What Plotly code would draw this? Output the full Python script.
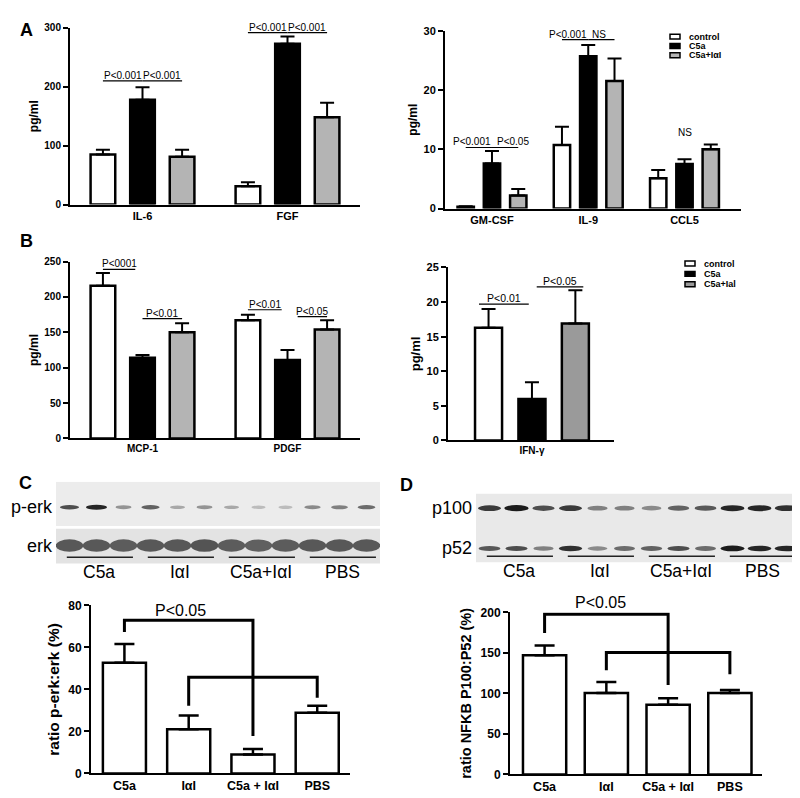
import plotly.graph_objects as go
import numpy as np

FONT = "Arial, Liberation Sans, Helvetica, sans-serif"
W, H = 800, 798

# ---------------- data ----------------
series_names = ["control", "C5a", "C5a+IαI"]

a1_cats = ["IL-6", "FGF"]
a1_vals = [[85, 31], [178, 273], [81, 148]]
a1_errs = [[8, 7], [21, 12], [12, 25]]

a2_cats = ["GM-CSF", "IL-9", "CCL5"]
a2_vals = [[0.3, 10.7, 5.1], [7.6, 25.7, 7.5], [2.2, 21.5, 10.0]]
a2_errs = [[0.1, 3.1, 1.4], [2.1, 1.9, 0.8], [1.1, 3.8, 0.8]]

b1_cats = ["MCP-1", "PDGF"]
b1_vals = [[216, 167], [114, 111], [150, 154]]
b1_errs = [[18, 8], [4, 14], [13, 13]]

b2_cats = ["IFN-γ"]
b2_vals = [[16.3], [6.0], [16.9]]
b2_errs = [[2.7], [2.4], [4.8]]

c_cats = ["C5a", "IαI", "C5a + IαI", "PBS"]
c_vals = [52.7, 21.1, 9.0, 28.9]
c_errs = [8.9, 6.5, 2.7, 3.4]

d_cats = ["C5a", "IαI", "C5a + IαI", "PBS"]
d_vals = [147, 100.6, 86, 100.6]
d_errs = [12, 13.5, 8, 3.5]

blot_groups = ["C5a", "IαI", "C5a+IαI", "PBS"]
perk_band = [0.75, 0.95, 0.4, 0.65, 0.3, 0.4, 0.3, 0.2, 0.2, 0.45, 0.5, 0.6]
erk_band = [0.7, 0.7, 0.68, 0.7, 0.7, 0.72, 0.68, 0.66, 0.68, 0.7, 0.7, 0.7]
p100_band = [0.85, 1.0, 0.75, 0.85, 0.5, 0.5, 0.45, 0.65, 0.7, 0.95, 0.95, 0.9]
p52_band = [0.7, 0.75, 0.5, 0.9, 0.45, 0.6, 0.65, 0.75, 0.6, 1.0, 0.95, 0.95]

# ---------------- styles ----------------
fills_A = ["white", "black", "#b4b4b4"]
fills_B2 = ["white", "black", "#9a9a9a"]
SLOT, BW = 0.273, 0.17


def px_x(v):
    return v / W


def px_y(v):
    return 1 - v / H


fig = go.Figure()


def grouped(xa, ya, cats, vals, errs, fills):
    n = len(cats)
    for j in range(3):
        fig.add_trace(go.Bar(
            x=np.arange(n) + (j - 1) * SLOT, y=vals[j], width=BW,
            name=series_names[j], showlegend=False,
            marker=dict(color=fills[j], line=dict(color="black", width=2.5)),
            error_y=dict(type="data", array=errs[j], arrayminus=[0] * n,
                         symmetric=False, thickness=2, width=7, color="black"),
            xaxis=xa, yaxis=ya, cliponaxis=False))


def single(xa, ya, cats, vals, errs, bw):
    n = len(cats)
    fig.add_trace(go.Bar(
        x=np.arange(n), y=vals, width=bw, showlegend=False,
        marker=dict(color="white", line=dict(color="black", width=2.5)),
        error_y=dict(type="data", array=errs, arrayminus=[0] * n,
                     symmetric=False, thickness=2.5, width=10, color="black"),
        xaxis=xa, yaxis=ya, cliponaxis=False))


grouped("x", "y", a1_cats, a1_vals, a1_errs, fills_A)
grouped("x2", "y2", a2_cats, a2_vals, a2_errs, fills_A)
grouped("x3", "y3", b1_cats, b1_vals, b1_errs, fills_A)
grouped("x4", "y4", b2_cats, b2_vals, b2_errs, fills_B2)
single("x7", "y7", c_cats, c_vals, c_errs, 0.67)
single("x8", "y8", d_cats, d_vals, d_errs, 0.70)


def xax(domain, rng, cats, anchor, size=11):
    return dict(domain=domain, range=rng, anchor=anchor,
                tickvals=list(range(len(cats))), ticktext=cats,
                showline=True, linecolor="black", linewidth=2,
                ticks="", showgrid=False, zeroline=False,
                tickfont=dict(family=FONT, size=size, color="black", weight="bold"))


def yax(domain, rng, dtick, title, anchor, tsize=10, titsize=12, standoff=3):
    return dict(domain=domain, range=rng, anchor=anchor, dtick=dtick, tick0=0,
                showline=True, linecolor="black", linewidth=2,
                ticks="outside", ticklen=5, tickwidth=2, tickcolor="black",
                showgrid=False, zeroline=False,
                tickfont=dict(family=FONT, size=tsize, color="black", weight="bold"),
                title=dict(text=title, standoff=standoff,
                           font=dict(family=FONT, size=titsize, color="black", weight="bold")))


def hidden(domain, rng, anchor):
    return dict(domain=domain, range=rng, anchor=anchor, visible=False,
                showgrid=False, zeroline=False, fixedrange=True)


layout = dict(
    width=W, height=H, margin=dict(l=0, r=0, t=0, b=0),
    paper_bgcolor="white", plot_bgcolor="rgba(0,0,0,0)",
    barmode="overlay", showlegend=False,
    font=dict(family=FONT, color="black"),
    xaxis=xax([px_x(62), px_x(352)], [-0.5, 1.5], a1_cats, "y"),
    yaxis=yax([px_y(193), px_y(13)], [0, 300], 100, "pg/ml", "x"),
    xaxis2=xax([px_x(437), px_x(733)], [-0.488, 2.587], a2_cats, "y2"),
    yaxis2=yax([px_y(197), px_y(16)], [0, 30], 10, "pg/ml", "x2", tsize=11),
    xaxis3=xax([px_x(62), px_x(352)], [-0.5, 1.5], b1_cats, "y3", size=10),
    yaxis3=yax([px_y(431), px_y(251)], [0, 250], 50, "pg/ml", "x3"),
    xaxis4=xax([px_x(440), px_x(606)], [-0.528, 0.516], b2_cats, "y4", size=10),
    yaxis4=yax([px_y(433), px_y(257)], [0, 25], 5, "pg/ml", "x4", tsize=11, titsize=13),
    xaxis5=hidden([px_x(48), px_x(372)], [0, 12], "y5"),
    yaxis5=hidden([px_y(560), px_y(475)], [0, 1], "x5"),
    xaxis6=hidden([px_x(468), px_x(792)], [0, 12], "y6"),
    yaxis6=hidden([px_y(560), px_y(487)], [0, 1], "x6"),
    xaxis7=xax([px_x(83), px_x(342)], [-0.52, 3.51], c_cats, "y7", size=12.5),
    yaxis7=yax([px_y(772), px_y(601)], [0, 80], 20, "ratio p-erk:erk (%)", "x7",
               tsize=12, titsize=15.5, standoff=5),
    xaxis8=xax([px_x(502), px_x(754)], [-0.56, 3.52], d_cats, "y8", size=12.5),
    yaxis8=yax([px_y(773), px_y(608)], [0, 200], 50, "ratio NFKB P100:P52 (%)", "x8",
               tsize=12, titsize=14.5, standoff=5),
)
fig.update_layout(**layout)

shapes = []
ann = []


def sig(xa, ya, x0, x1, y, text, size=10, dx=0):
    shapes.append(dict(type="line", xref=xa, yref=ya, x0=x0, x1=x1, y0=y, y1=y,
                       line=dict(color="black", width=1.2)))
    ann.append(dict(xref=xa, yref=ya, x=(x0 + x1) / 2 + dx, y=y, text=text,
                    showarrow=False, yanchor="bottom", yshift=-2,
                    font=dict(family=FONT, size=size, color="black")))


def ctr(i, j):
    return i + (j - 1) * SLOT


# panel A significance
sig("x", "y", ctr(0, 0), ctr(0, 1), 210, "P<0.001")
sig("x", "y", ctr(0, 1), ctr(0, 2), 210, "P<0.001")
sig("x", "y", ctr(1, 0), ctr(1, 1), 291.7, "P<0.001")
sig("x", "y", ctr(1, 1), ctr(1, 2), 291.7, "P<0.001")
sig("x2", "y2", ctr(0, 0), ctr(0, 1), 10.3, "P<0.001", dx=-0.07)
sig("x2", "y2", ctr(0, 1), ctr(0, 2), 10.3, "P<0.05", dx=0.08)
sig("x2", "y2", ctr(1, 0), ctr(1, 1), 28.5, "P<0.001", dx=-0.07)
sig("x2", "y2", ctr(1, 1), ctr(1, 2), 28.5, "NS", dx=-0.02)
ann.append(dict(xref="x2", yref="y2", x=ctr(2, 1), y=12.9, text="NS", showarrow=False,
                font=dict(family=FONT, size=10, color="black")))

# panel B significance
sig("x3", "y3", ctr(0, 0), ctr(0, 1) - 0.05, 238.9, "P<0001")
sig("x3", "y3", ctr(0, 1), ctr(0, 2), 169.4, "P<0.01")
sig("x3", "y3", ctr(1, 0), ctr(1, 1) - 0.04, 181.9, "P<0.01")
sig("x3", "y3", ctr(1, 1) + 0.07, ctr(1, 2), 172.2, "P<0.05")
sig("x4", "y4", ctr(0, 0) - 0.06, ctr(0, 1) - 0.02, 19.7, "P<0.01", size=10.5)
sig("x4", "y4", ctr(0, 1) + 0.03, ctr(0, 2) + 0.05, 22.2, "P<0.05", size=10.5)


# legends (manual)
def legend_block(x_sym, x_txt, rows, fills, labels):
    for yy, f, lab in zip(rows, fills, labels):
        shapes.append(dict(type="rect", xref="paper", yref="paper",
                           x0=px_x(x_sym), x1=px_x(x_sym + 10),
                           y0=px_y(yy + 2.5), y1=px_y(yy - 2.5),
                           fillcolor=f, line=dict(color="black", width=1.5)))
        ann.append(dict(xref="paper", yref="paper", x=px_x(x_txt), y=px_y(yy),
                        text=lab, showarrow=False, xanchor="left", yanchor="middle",
                        font=dict(family=FONT, size=9, color="black", weight="bold")))


legend_block(662, 679, [22, 31.5, 41], fills_A, series_names)
legend_block(677, 694, [253, 263.5, 274], fills_B2, ["control", "C5a", "C5a+Ial"])


# blots
def gray(v):
    g = int(228 - 200 * v)
    return f"rgb({g},{g},{g})"


def blot_bg(xa, ya, y0, y1, color):
    shapes.append(dict(type="rect", xref=xa, yref=ya, x0=0, x1=12, y0=y0, y1=y1,
                       fillcolor=color, line=dict(width=0), layer="below"))


def bands(xa, ya, vals, yc, h, base_w, grow_w):
    for k, v in enumerate(vals):
        hw = (base_w + grow_w * v) / 2
        hh = h * (0.6 + 0.4 * v) / 2
        shapes.append(dict(type="circle", xref=xa, yref=ya,
                           x0=k + 0.5 - hw, x1=k + 0.5 + hw,
                           y0=yc - hh, y1=yc + hh,
                           fillcolor=gray(v), line=dict(width=0)))


def group_labels(xa, ya, y_line, y_text_px):
    for g, lab in enumerate(blot_groups):
        shapes.append(dict(type="line", xref=xa, yref=ya, x0=3 * g + 0.4, x1=3 * g + 2.85,
                           y0=y_line, y1=y_line, line=dict(color="#222", width=1.5)))
        ann.append(dict(xref=xa, yref="paper", x=3 * g + 1.6, y=px_y(y_text_px),
                        text=lab, showarrow=False, yanchor="middle",
                        font=dict(family=FONT, size=17.5, color="black")))


blot_bg("x5", "y5", 0.47, 1.0, "#ececec")
blot_bg("x5", "y5", 0.02, 0.435, "#e3e3e3")
bands("x5", "y5", perk_band, 0.694, 0.06, 0.45, 0.35)
bands("x5", "y5", erk_band, 0.235, 0.17, 0.95, 0.1)
group_labels("x5", "y5", 0.094, 567)
ann.append(dict(xref="paper", yref="y5", x=px_x(47), y=0.694, text="p-erk", showarrow=False,
                xanchor="right", font=dict(family=FONT, size=18, color="black")))
ann.append(dict(xref="paper", yref="y5", x=px_x(47), y=0.235, text="erk", showarrow=False,
                xanchor="right", font=dict(family=FONT, size=18, color="black")))

blot_bg("x6", "y6", 0.04, 1.0, "#e9e9e9")
bands("x6", "y6", p100_band, 0.795, 0.085, 0.6, 0.3)
bands("x6", "y6", p52_band, 0.233, 0.08, 0.6, 0.3)
group_labels("x6", "y6", 0.123, 566)
ann.append(dict(xref="paper", yref="y6", x=px_x(466), y=0.795, text="p100", showarrow=False,
                xanchor="right", font=dict(family=FONT, size=18, color="black")))
ann.append(dict(xref="paper", yref="y6", x=px_x(466), y=0.233, text="p52", showarrow=False,
                xanchor="right", font=dict(family=FONT, size=18, color="black")))


# brackets C/D
def bracket(xa, ya, i0, y0, ytop, i1, y1):
    shapes.append(dict(type="path", xref=xa, yref=ya,
                       path=f"M {i0},{y0} L {i0},{ytop} L {i1},{ytop} L {i1},{y1}",
                       line=dict(color="black", width=3)))


bracket("x7", "y7", 0, 67.4, 73.0, 2, 17.8)
bracket("x7", "y7", 1, 32.3, 45.8, 3, 36.0)
ann.append(dict(xref="x7", yref="paper", x=0.88, y=px_y(606), text="P<0.05", showarrow=False,
                yanchor="middle", font=dict(family=FONT, size=16, color="black")))
bracket("x8", "y8", 0, 174.5, 197.6, 2, 110.3)
bracket("x8", "y8", 1, 128.5, 150.3, 3, 123.6)
ann.append(dict(xref="x8", yref="paper", x=0.9, y=px_y(598), text="P<0.05", showarrow=False,
                yanchor="middle", font=dict(family=FONT, size=16, color="black")))

# panel letters
for lab, xx, yy in [("A", 18, 15), ("B", 18, 230), ("C", 17, 476), ("D", 398, 478)]:
    ann.append(dict(xref="paper", yref="paper", x=px_x(xx), y=px_y(yy), text=lab,
                    showarrow=False, xanchor="center", yanchor="middle",
                    font=dict(family=FONT, size=18, color="black", weight="bold")))

fig.update_layout(shapes=shapes, annotations=ann)
fig.write_html("out.html")
